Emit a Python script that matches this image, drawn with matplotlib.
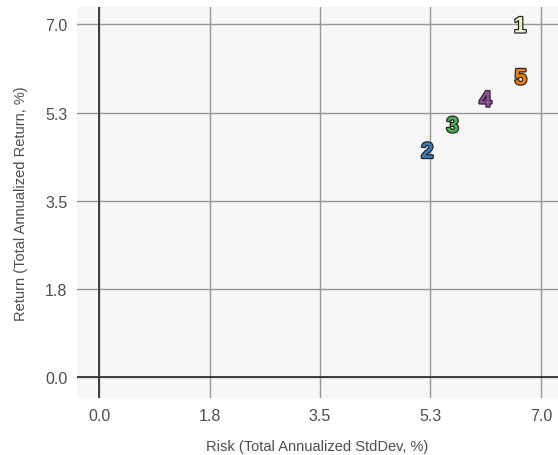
import matplotlib
matplotlib.use("Agg")
import matplotlib.pyplot as plt
import matplotlib.patheffects as pe

# portfolio risk / return points
labels = ["1", "2", "3", "4", "5"]
risk = [6.67, 5.20, 5.60, 6.12, 6.68]
ret = [6.95, 4.46, 4.97, 5.48, 5.92]
colors = ["#e6f5c9", "#377eb8", "#4daf4a", "#984ea3", "#ff7f00"]

tick_vals = [0.0, 1.75, 3.5, 5.25, 7.0]
tick_text = ["0.0", "1.8", "3.5", "5.3", "7.0"]

plt.rcParams["font.family"] = ["Liberation Sans", "DejaVu Sans"]

fig = plt.figure(figsize=(5.58, 4.56), dpi=100)
ax = fig.add_axes([0.138, 0.125, 0.862, 0.857])
ax.set_facecolor("#f7f7f7")

ax.set_xlim(-0.35, 7.27)
ax.set_ylim(-0.41, 7.34)
ax.set_xticks(tick_vals)
ax.set_xticklabels(tick_text)
ax.set_yticks(tick_vals)
ax.set_yticklabels(tick_text)
ax.grid(True, color="#969696", lw=1.0)
ax.set_axisbelow(True)
ax.tick_params(length=0, labelsize=11.5, labelcolor="#4d4d4d", pad=7)
for s in ax.spines.values():
    s.set_visible(False)

ax.axhline(0, color="#333333", lw=1.3, zorder=1)
ax.axvline(0, color="#333333", lw=1.3, zorder=1)

for lab, x, y, c in zip(labels, risk, ret, colors):
    ax.text(x, y, lab, color=c, fontsize=16, fontweight="bold",
            ha="center", va="center", zorder=3,
            path_effects=[pe.withStroke(linewidth=1.8, foreground="#262626")])

ax.set_xlabel("Risk (Total Annualized StdDev, %)", fontsize=10.5,
              color="#4d4d4d", labelpad=12)
ax.set_ylabel("Return (Total Annualized Return, %)", fontsize=10.5,
              color="#4d4d4d", labelpad=12)

fig.savefig("out.png", dpi=100)
